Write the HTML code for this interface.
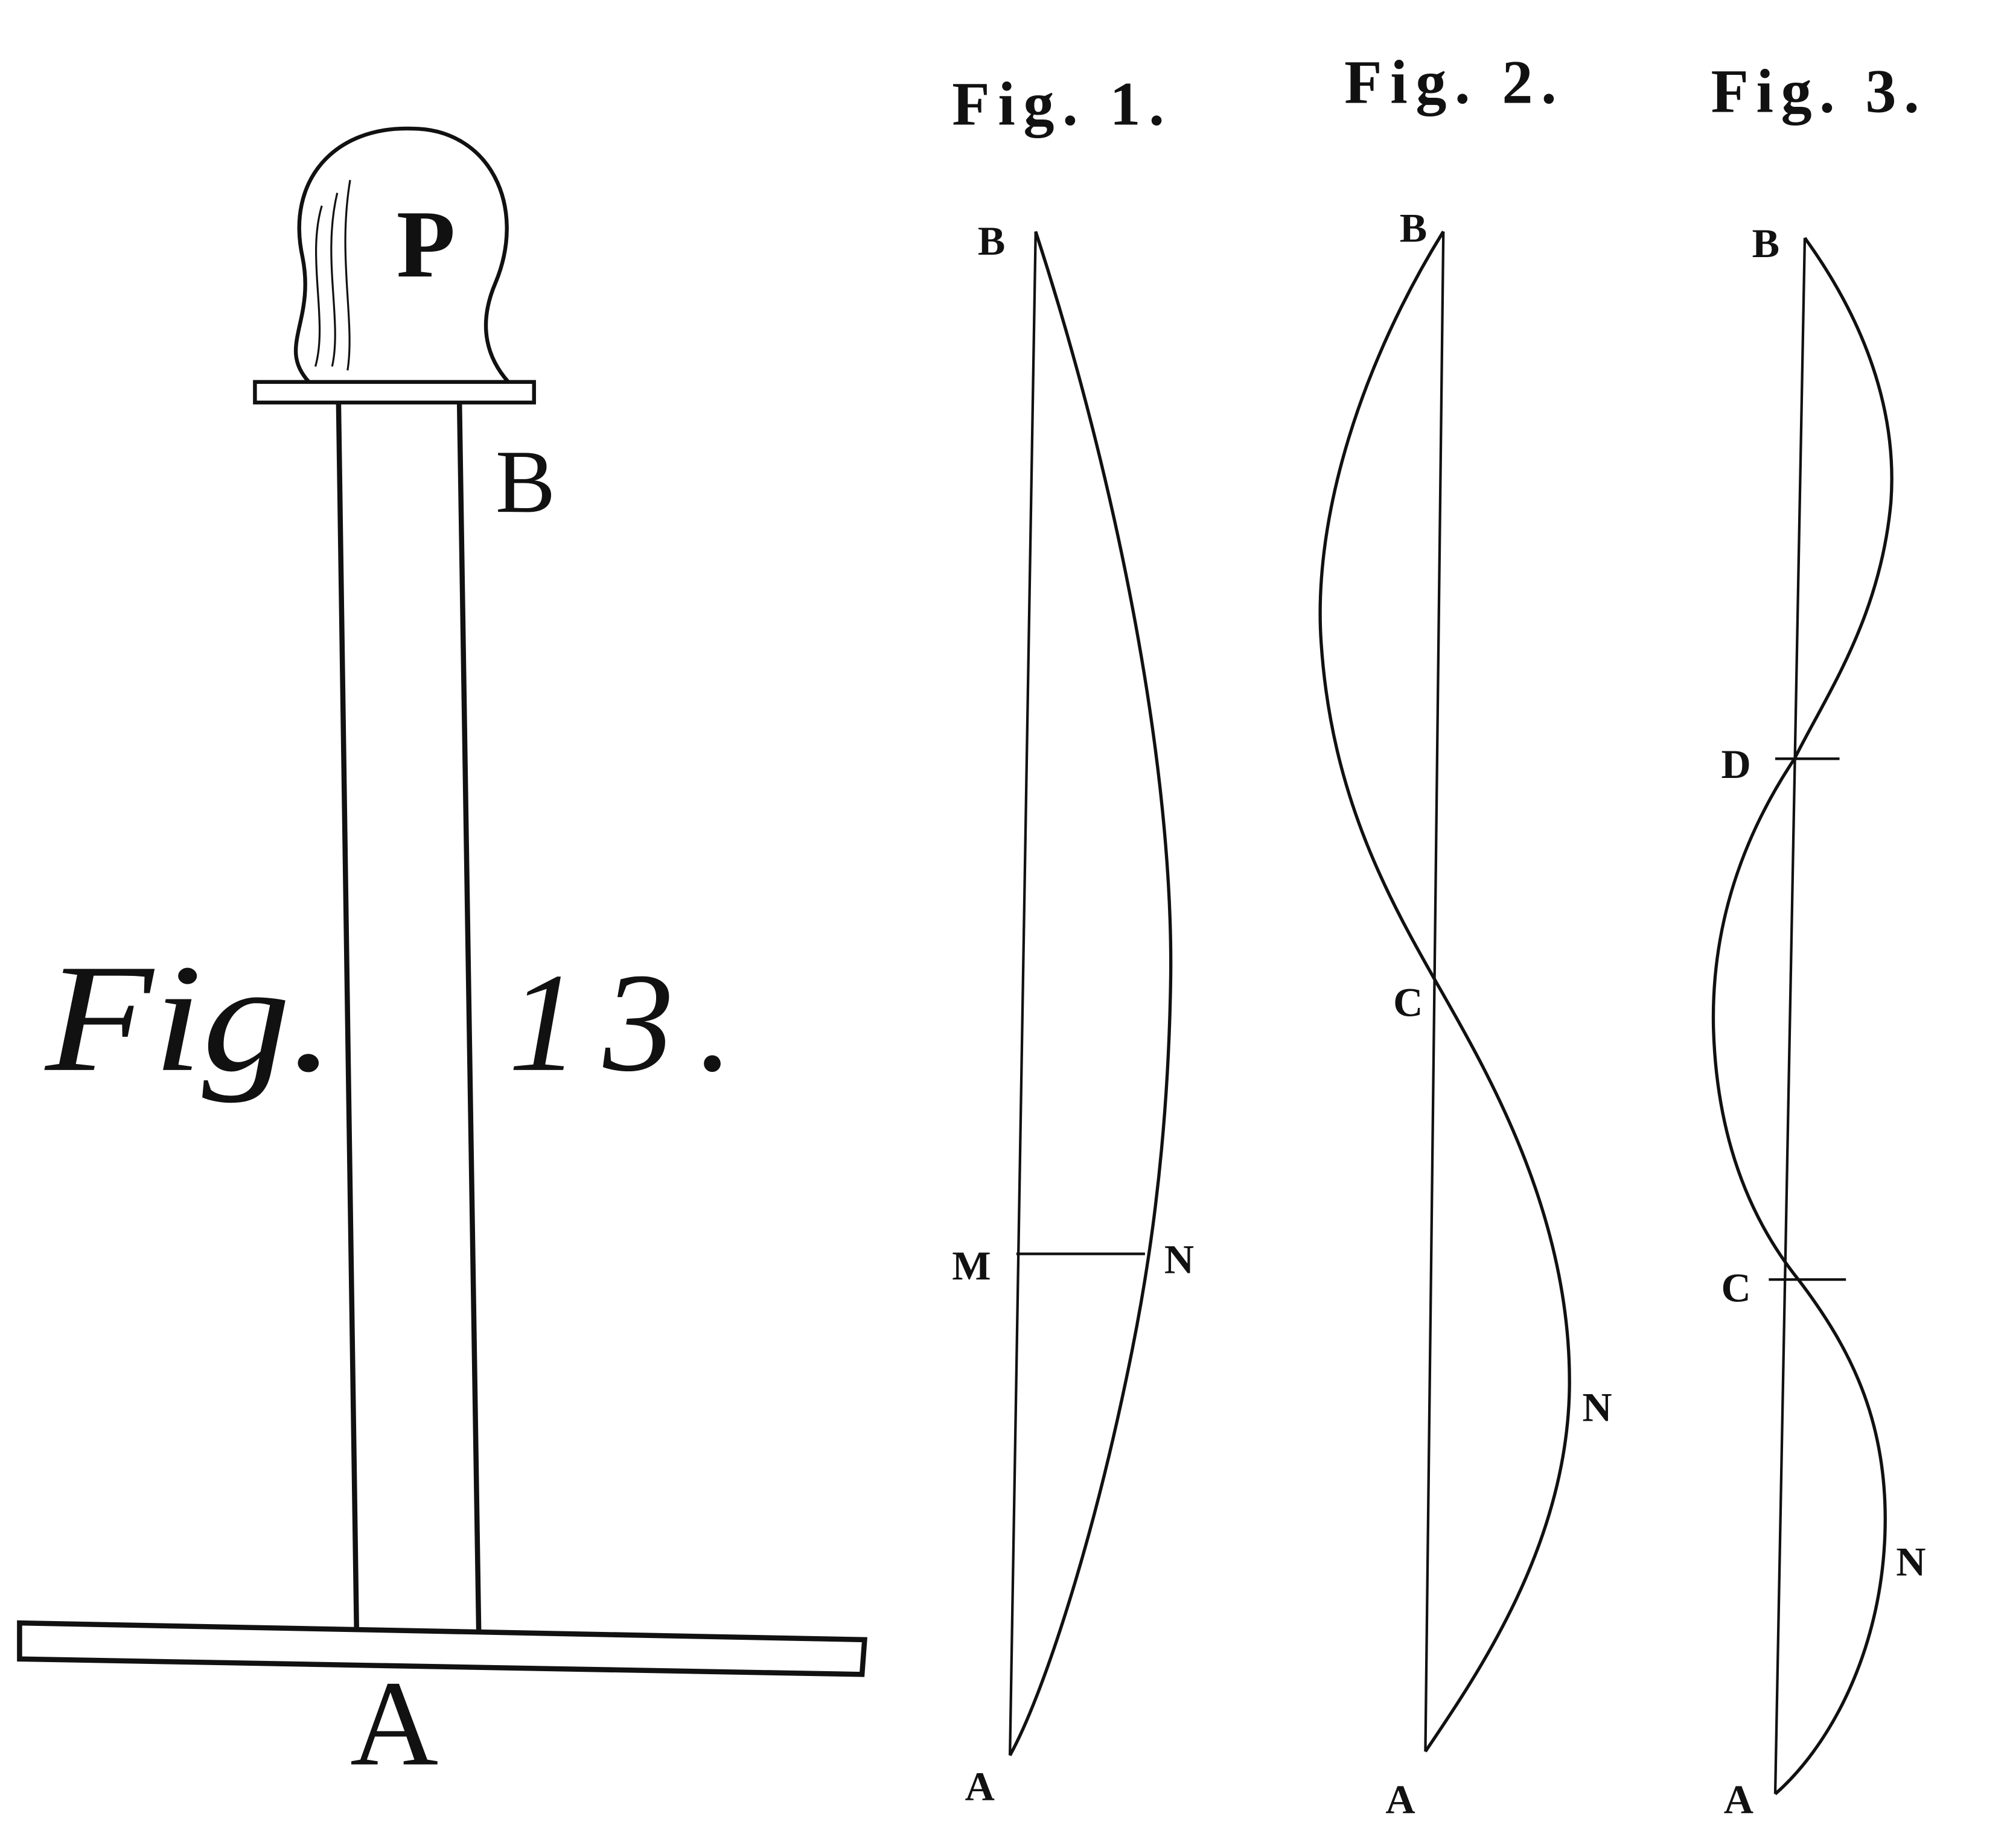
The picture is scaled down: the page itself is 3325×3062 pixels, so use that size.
<!DOCTYPE html>
<html><head><meta charset="utf-8"><style>html,body{margin:0;padding:0;background:#fff}svg{display:block}</style></head>
<body>
<svg width="3325" height="3062" viewBox="0 0 1560 1437" xmlns="http://www.w3.org/2000/svg">
<rect width="1560" height="1437" fill="#fff"/>
<g fill="none" stroke="#111" stroke-width="3">
<!-- Fig 13 -->
<path d="M240,297 C215,270 245,250 235,200 C222,140 260,98 320,100 C380,100 410,160 385,220 C370,255 380,280 395,297" stroke-width="3"/>
<path d="M245,285 C255,250 238,200 250,160 M258,285 C266,250 250,200 262,150 M270,288 C276,250 262,200 272,140" stroke-width="1.5"/>
<rect x="198" y="297" width="217" height="16" stroke-width="3"/>
<path d="M263,313 L277,1266 M357,313 L372,1268" stroke-width="4"/>
<path d="M15,1262 L672,1275 L670,1302 L15,1290 Z" stroke-width="4"/>
<!-- Fig 1 -->
<path d="M805,180 L785,1365" stroke-width="2"/>
<path d="M805,180 C870,380 912,600 910,760 C908,900 890,1000 880,1050 C850,1200 810,1320 785,1365" stroke-width="2.5"/>
<path d="M790,975 L890,975" stroke-width="2"/>
<!-- Fig 2 -->
<path d="M1122,180 L1108,1362" stroke-width="2"/>
<path d="M1122,180 C1060,280 1020,400 1027,500 C1035,620 1080,700 1120,770 C1160,840 1222,950 1220,1080 C1218,1200 1150,1300 1108,1362" stroke-width="2.5"/>
<!-- Fig 3 -->
<path d="M1403,185 L1380,1395" stroke-width="2"/>
<path d="M1403,185 C1450,250 1475,320 1470,390 C1462,480 1420,540 1395,590 C1355,650 1330,720 1332,800 C1335,900 1370,960 1398,995 C1440,1050 1470,1110 1465,1200 C1460,1290 1420,1360 1380,1395" stroke-width="2.5"/>
<path d="M1380,590 L1430,590 M1375,995 L1435,995" stroke-width="2"/>
</g>
<g fill="#111" font-family="Liberation Serif, serif">
<text x="308" y="215" font-size="75" font-weight="bold">P</text>
<text x="385" y="398" font-size="70">B</text>
<text x="272" y="1372" font-size="95">A</text>
<text x="35" y="832" font-size="120" font-style="italic" textLength="225" lengthAdjust="spacingAndGlyphs">Fig.</text>
<text x="395" y="832" font-size="110" font-style="italic" textLength="175" lengthAdjust="spacing">13.</text>
<g font-weight="bold">
<text x="740" y="97" font-size="48" textLength="165">Fig. 1.</text>
<text x="1045" y="80" font-size="48" textLength="165">Fig. 2.</text>
<text x="1330" y="87" font-size="48" textLength="162">Fig. 3.</text>
<g font-size="32">
<text x="760" y="198">B</text>
<text x="740" y="995">M</text>
<text x="905" y="990">N</text>
<text x="750" y="1400">A</text>
<text x="1088" y="188">B</text>
<text x="1083" y="790">C</text>
<text x="1230" y="1105">N</text>
<text x="1077" y="1410">A</text>
<text x="1362" y="200">B</text>
<text x="1338" y="605">D</text>
<text x="1338" y="1012">C</text>
<text x="1474" y="1225">N</text>
<text x="1340" y="1410">A</text>
</g></g></g>
</svg>
</body></html>
